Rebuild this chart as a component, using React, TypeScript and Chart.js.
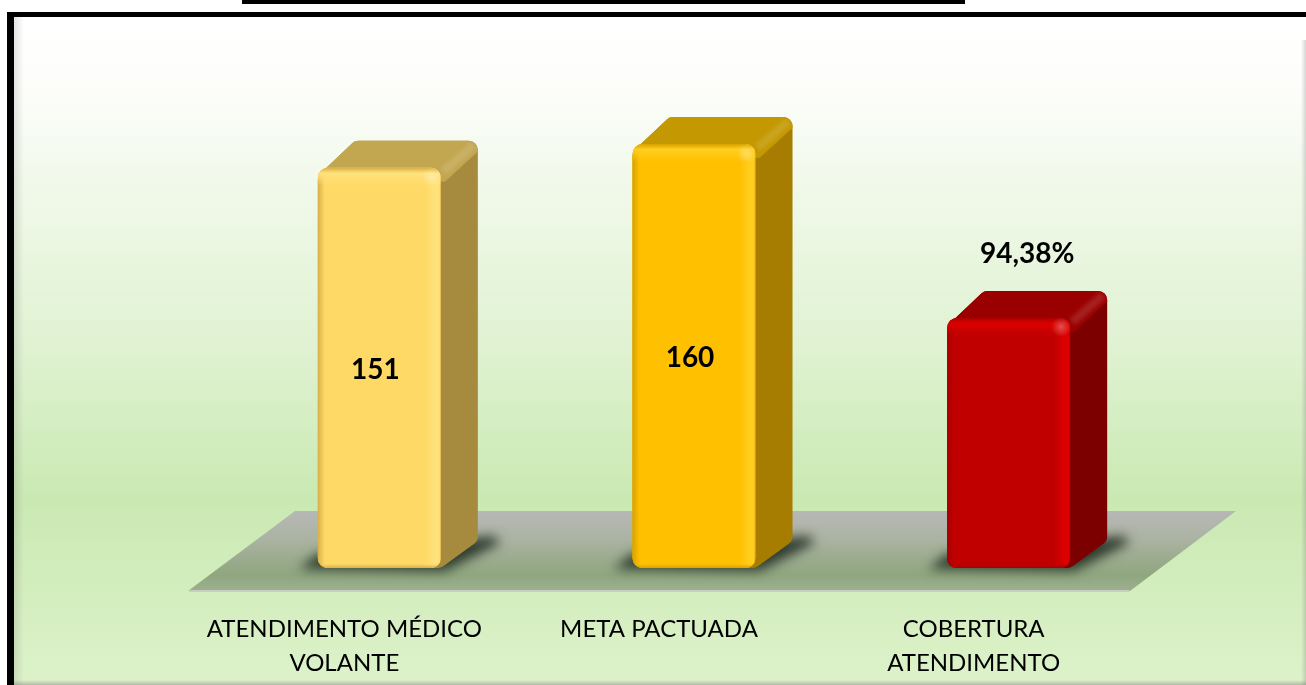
import React, { useEffect, useRef } from "react";
import { Chart, registerables } from "chart.js";

Chart.register(...registerables);

const categories: string[][] = [["ATENDIMENTO MÉDICO", "VOLANTE"], ["META PACTUADA"], ["COBERTURA", "ATENDIMENTO"]];
const values = [151, 160, 94.38];
const valueLabels = ["151", "160", "94,38%"];

const frontColors = ["#FFD966", "#FFC000", "#C00000"];
const sideColors = ["#A68B3F", "#A67D00", "#7D0000"];
const topColors = ["#C2A650", "#C49800", "#9A0000"];
const lightColors = ["#FFE27C", "#FFCE1E", "#DC0000"];
const edgeColors = ["#D9AF48", "#D8A200", "#A80000"];

const DX = 37;
const DY = 27;

type P = [number, number];

function roundPoly(ctx: CanvasRenderingContext2D, pts: P[], r: number) {
  ctx.beginPath();
  const n = pts.length;
  const a = pts[n - 1], b = pts[0];
  ctx.moveTo((a[0] + b[0]) / 2, (a[1] + b[1]) / 2);
  for (let i = 0; i < n; i++) {
    const p = pts[i], q = pts[(i + 1) % n];
    ctx.arcTo(p[0], p[1], q[0], q[1], r);
  }
  ctx.closePath();
}

const scene = {
  id: "scene",
  beforeDraw(chart: any) {
    const { ctx, width, height } = chart;
    ctx.save();
    const bg = ctx.createLinearGradient(0, 17, 0, height);
    bg.addColorStop(0, "#FFFFFF");
    bg.addColorStop(0.1, "#FDFEFB");
    bg.addColorStop(0.25, "#F1F9EA");
    bg.addColorStop(0.5, "#DFF2D1");
    bg.addColorStop(0.72, "#CAE9B2");
    bg.addColorStop(1, "#DDF2CA");
    ctx.fillStyle = "#FFFFFF";
    ctx.fillRect(0, 0, width, height);
    ctx.fillStyle = bg;
    ctx.fillRect(14, 17, width - 14, height - 17);
    const inner = ctx.createLinearGradient(14, 0, 24, 0);
    inner.addColorStop(0, "rgba(120,120,120,0.2)");
    inner.addColorStop(1, "rgba(120,120,120,0)");
    ctx.fillStyle = inner;
    ctx.fillRect(14, 17, 10, height - 17);
    const right = ctx.createLinearGradient(width - 5, 0, width, 0);
    right.addColorStop(0, "rgba(120,120,120,0)");
    right.addColorStop(1, "rgba(120,120,120,0.3)");
    ctx.fillStyle = right;
    ctx.fillRect(width - 5, 40, 5, height - 40);
    const bottom = ctx.createLinearGradient(0, height - 5, 0, height);
    bottom.addColorStop(0, "rgba(120,120,120,0)");
    bottom.addColorStop(1, "rgba(120,120,120,0.45)");
    ctx.fillStyle = bottom;
    ctx.fillRect(14, height - 5, width - 14, 5);
    ctx.fillStyle = "#000000";
    ctx.fillRect(7, 12, width - 7, 5);
    ctx.fillRect(7, 12, 7, height - 12);
    ctx.fillRect(242, 0, 723, 4);

    // floor
    const { left, right: pr, bottom: pb } = chart.chartArea;
    const y0 = pb + 23;
    const y1 = pb - 57;
    const floor = ctx.createLinearGradient(0, y1, 0, y0);
    floor.addColorStop(0, "#B7B8B5");
    floor.addColorStop(0.35, "#ABB3A2");
    floor.addColorStop(0.8, "#8FA67F");
    floor.addColorStop(1, "#9DB08E");
    ctx.fillStyle = floor;
    ctx.beginPath();
    ctx.moveTo(left - 34, y0);
    ctx.lineTo(pr - 36, y0);
    ctx.lineTo(pr + 70, y1);
    ctx.lineTo(left + 73, y1);
    ctx.closePath();
    ctx.fill();
    ctx.fillStyle = "#C8CCC2";
    ctx.fillRect(left - 33, y0 - 1, pr - left - 4, 2);
    ctx.restore();
  },
  beforeDatasetsDraw(chart: any) {
    const { ctx } = chart;
    const meta = chart.getDatasetMeta(0);
    ctx.save();
    meta.data.forEach((bar: any, i: number) => {
      const L = bar.x - bar.width / 2, R = bar.x + bar.width / 2, T = bar.y, B = bar.base;
      // shadow
      ctx.save();
      ctx.filter = "blur(6px)";
      ctx.fillStyle = "rgba(30,42,30,0.88)";
      ctx.beginPath();
      ctx.moveTo(L - 19, B + 1);
      ctx.lineTo(R + 4, B + 3);
      ctx.lineTo(R + DX + 22, B - DY + 2);
      ctx.lineTo(R + DX + 16, B - DY - 5);
      ctx.lineTo(L, B - 14);
      ctx.closePath();
      ctx.fill();
      ctx.restore();
      // side and top faces
      ctx.fillStyle = sideColors[i];
      roundPoly(ctx, [[L, T + 8], [L + DX, T - DY], [R + DX, T - DY], [R + DX, B - DY], [R, B], [L, B]], 9);
      ctx.fill();
      ctx.save();
      roundPoly(ctx, [[L, T + 8], [L + DX, T - DY], [R + DX, T - DY], [R + DX, B - DY], [R, B], [L, B]], 9);
      ctx.clip();
      ctx.fillStyle = topColors[i];
      ctx.beginPath();
      ctx.moveTo(L - 2, T + 8);
      ctx.lineTo(L + DX, T - DY - 2);
      ctx.lineTo(R + DX + 2, T - DY - 2);
      ctx.lineTo(R + DX + 2, T - DY + 9);
      ctx.lineTo(R + 4, T + 14);
      ctx.closePath();
      ctx.fill();
      // soft highlight along the top-right edge
      ctx.filter = "blur(2px)";
      ctx.strokeStyle = "rgba(255,255,255,0.13)";
      ctx.lineWidth = 8;
      ctx.beginPath();
      ctx.moveTo(R + 2, T + 4);
      ctx.lineTo(R + DX - 4, T - DY + 4);
      ctx.stroke();
      ctx.restore();
    });
    ctx.restore();
  },
  afterDatasetsDraw(chart: any) {
    const { ctx } = chart;
    const meta = chart.getDatasetMeta(0);
    ctx.save();
    meta.data.forEach((bar: any, i: number) => {
      const w = bar.width, L = bar.x - w / 2, R = bar.x + w / 2, T = bar.y, B = bar.base;
      ctx.save();
      ctx.beginPath();
      ctx.roundRect(L, T, w, B - T, 10);
      ctx.clip();
      const h = ctx.createLinearGradient(L, 0, R, 0);
      const px = (v: number) => v / w;
      h.addColorStop(0, edgeColors[i]);
      h.addColorStop(px(7), frontColors[i]);
      h.addColorStop(1 - px(16), frontColors[i]);
      h.addColorStop(1 - px(6), lightColors[i]);
      h.addColorStop(1 - px(1.5), lightColors[i]);
      h.addColorStop(1, edgeColors[i]);
      ctx.fillStyle = h;
      ctx.fillRect(L, T, w, B - T);
      const v = ctx.createLinearGradient(0, T, 0, T + 18);
      v.addColorStop(0, edgeColors[i]);
      v.addColorStop(0.3, lightColors[i]);
      v.addColorStop(1, lightColors[i] + "00");
      ctx.fillStyle = v;
      ctx.fillRect(L, T, w, 18);
      const glow = ctx.createRadialGradient(R - 9, T + 9, 0, R - 9, T + 9, 10);
      glow.addColorStop(0, "rgba(255,255,255,0.3)");
      glow.addColorStop(1, "rgba(255,255,255,0)");
      ctx.fillStyle = glow;
      ctx.fillRect(R - 20, T, 20, 20);
      const b = ctx.createLinearGradient(0, B - 4, 0, B);
      b.addColorStop(0, edgeColors[i] + "00");
      b.addColorStop(1, edgeColors[i]);
      ctx.fillStyle = b;
      ctx.fillRect(L, B - 4, w, 4);
      ctx.restore();

      ctx.fillStyle = "#000000";
      ctx.font = "bold 28px Lato";
      ctx.textAlign = "center";
      ctx.textBaseline = "middle";
      if (i < 2) {
        ctx.fillText(valueLabels[i], bar.x - 4, (T + B) / 2 + 2);
      } else {
        ctx.fillText(valueLabels[i], bar.x + 18.5, T - 64);
      }
    });
    ctx.restore();
  },
};

export default function App() {
  const ref = useRef<HTMLCanvasElement>(null);
  useEffect(() => {
    document.body.style.margin = "0";
    const chart = new Chart(ref.current!, {
      type: "bar",
      data: {
        labels: categories as any,
        datasets: [
          {
            data: values,
            backgroundColor: frontColors,
            borderRadius: 10,
            borderSkipped: false,
            barPercentage: 0.391,
            categoryPercentage: 1,
          },
        ],
      },
      options: {
        responsive: false,
        animation: false,
        layout: { padding: { left: 222, right: 140, top: 91, bottom: 0 } },
        plugins: { legend: { display: false }, tooltip: { enabled: false }, title: { display: false } },
        scales: {
          x: {
            grid: { display: false },
            border: { display: false },
            afterFit(scale: any) {
              scale.height = 117;
            },
            ticks: {
              maxRotation: 0,
              minRotation: 0,
              autoSkip: false,
              labelOffset: -35,
              padding: 36,
              color: "#000000",
              font: { family: "Lato", size: 24, lineHeight: 1.42 },
            },
          },
          y: { display: false, min: 0, max: 180 },
        },
      },
      plugins: [scene],
    });
    return () => chart.destroy();
  }, []);
  return <canvas ref={ref} width={1306} height={685} style={{ display: "block", position: "absolute", left: 0, top: 0 }} />;
}
